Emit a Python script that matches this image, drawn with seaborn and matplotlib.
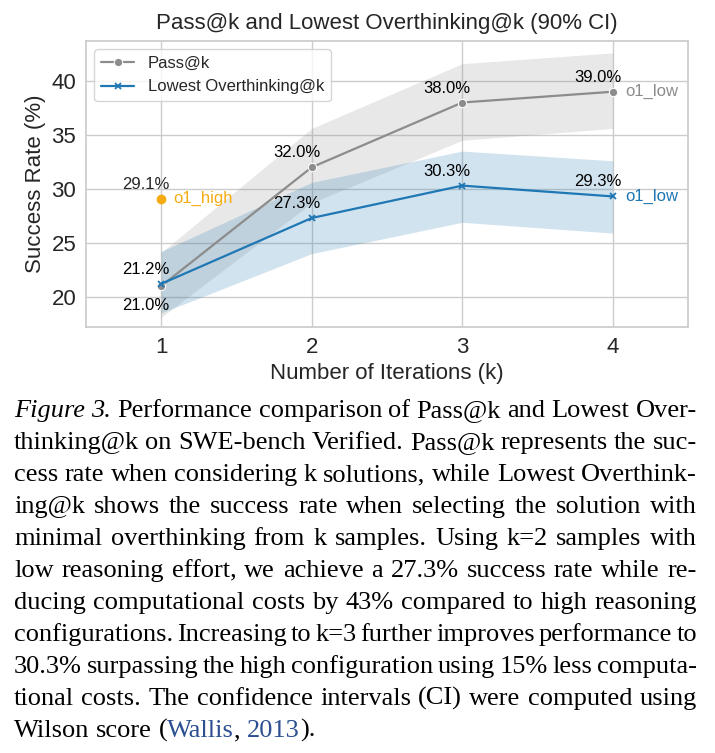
import re

import matplotlib
matplotlib.use("Agg")
import matplotlib.pyplot as plt
import seaborn as sns
from matplotlib.font_manager import FontProperties

# ── Data ────────────────────────────────────────────────────────────────────
iterations = [1, 2, 3, 4]

pass_at_k = [21.0, 32.0, 38.0, 39.0]
pass_ci_low = [18.1, 28.7, 34.5, 35.6]
pass_ci_high = [24.1, 35.6, 41.6, 42.6]

lowest_ot = [21.2, 27.3, 30.3, 29.3]
lowest_ci_low = [18.5, 24.0, 26.9, 25.9]
lowest_ci_high = [24.2, 30.6, 33.5, 32.6]

o1_high_k = 1
o1_high_rate = 29.1

series_names = ["Pass@k", "Lowest Overthinking@k"]
end_label = "o1_low"
high_label = "o1_high"
y_ticks = [20, 25, 30, 35, 40]

caption_lines = [
    "_Figure_ _3._ Performance comparison of Pass@k and Lowest Over-",
    "thinking@k on SWE-bench Verified. Pass@k represents the suc-",
    "cess rate when considering k solutions, while Lowest Overthink-",
    "ing@k shows the success rate when selecting the solution with",
    "minimal overthinking from k samples. Using k=2 samples with",
    "low reasoning effort, we achieve a 27.3% success rate while re-",
    "ducing computational costs by 43% compared to high reasoning",
    "configurations. Increasing to k=3 further improves performance to",
    "30.3% surpassing the high configuration using 15% less computa-",
    "tional costs. The confidence intervals (CI) were computed using",
    "Wilson score ([Wallis], [2013]).",
]

# ── Style ───────────────────────────────────────────────────────────────────
GRAY = "#8c8c8c"
BLUE = "#1f77b4"
ORANGE = "#f5ac12"
LINK = "#2b4f90"
SERIF = ["Liberation Serif", "DejaVu Serif"]
W, H = 715, 753

sns.set_theme(style="whitegrid")
plt.rcParams["font.family"] = ["Liberation Sans", "DejaVu Sans"]

fig = plt.figure(figsize=(W / 100, H / 100), dpi=100)
ax = fig.add_axes([86 / W, 1 - 327 / H, (688 - 86) / W, (327 - 41) / H])

# ── Confidence bands and lines ─────────────────────────────────────────────
ax.fill_between(iterations, pass_ci_low, pass_ci_high, color=GRAY, alpha=0.2, lw=0)
ax.fill_between(iterations, lowest_ci_low, lowest_ci_high, color=BLUE, alpha=0.2, lw=0)

sns.lineplot(x=iterations, y=pass_at_k, marker="o", color=GRAY, label=series_names[0],
             ax=ax, markersize=6, linewidth=1.6)
sns.lineplot(x=iterations, y=lowest_ot, marker="x", color=BLUE, label=series_names[1],
             ax=ax, markersize=5, linewidth=1.6, mec=BLUE, mew=1.3)
ax.plot([o1_high_k], [o1_high_rate], "o", color=ORANGE, markersize=6, zorder=3)

# ── Value labels ────────────────────────────────────────────────────────────
for i, (k, v) in enumerate(zip(iterations, pass_at_k)):
    below = i == 0
    ax.annotate(f"{v:.1f}%", (k, v), xytext=(6, -9 if below else 5),
                textcoords="offset points", ha="right",
                va="top" if below else "bottom", fontsize=12, color="black")
for k, v in zip(iterations, lowest_ot):
    ax.annotate(f"{v:.1f}%", (k, v), xytext=(6, 5), textcoords="offset points",
                ha="right", va="bottom", fontsize=12, color="black")
ax.annotate(f"{o1_high_rate:.1f}%", (o1_high_k, o1_high_rate), xytext=(6, 5),
            textcoords="offset points", ha="right", va="bottom", fontsize=12)
ax.annotate(high_label, (o1_high_k, o1_high_rate), xytext=(9, 0),
            textcoords="offset points", ha="left", va="center", fontsize=12, color=ORANGE)
ax.annotate(end_label, (iterations[-1], pass_at_k[-1]), xytext=(9, 0),
            textcoords="offset points", ha="left", va="center", fontsize=12, color=GRAY)
ax.annotate(end_label, (iterations[-1], lowest_ot[-1]), xytext=(9, 0),
            textcoords="offset points", ha="left", va="center", fontsize=12, color=BLUE)

# ── Axes ────────────────────────────────────────────────────────────────────
ax.set_xlim(0.5, 4.5)
ax.set_ylim(17.2, 43.7)
ax.set_xticks(iterations)
ax.set_yticks(y_ticks)
ax.tick_params(labelsize=16, pad=7, length=0)
ax.set_xlabel("Number of Iterations (k)", fontsize=16)
ax.set_ylabel("Success Rate (%)", fontsize=16)
ax.set_title("Pass@k and Lowest Overthinking@k (90% CI)", fontsize=16, pad=9)
ax.legend(loc="upper left", fontsize=12, frameon=True)


# ── Caption (justified, placed word by word) ───────────────────────────────
renderer = fig.canvas.get_renderer()


def parse_word(word):
    frags = []
    for part in re.split(r"(_[^_]+_|\[[^\]]+\])", word):
        if not part:
            continue
        if part.startswith("_") and part.endswith("_") and len(part) > 1:
            frags.append((part[1:-1], "italic", "black"))
        elif part.startswith("[") and part.endswith("]"):
            frags.append((part[1:-1], "normal", LINK))
        else:
            frags.append((part, "normal", "black"))
    return frags


def advance(s, prop):
    # pen advance of s: ink("x"+s+"x") - ink("xx")
    w1, _, _ = renderer.get_text_width_height_descent("x" + s + "x", prop, ismath=False)
    w0, _, _ = renderer.get_text_width_height_descent("xx", prop, ismath=False)
    return w1 - w0


def draw_caption_line(line, baseline, justify, left=14, right=697, size=19):
    while True:
        words = []
        for w in line.split(" "):
            items = []
            for text, style, color in parse_word(w):
                prop = FontProperties(family=SERIF, style=style, size=size)
                items.append((text, prop, color, advance(text, prop)))
            words.append(items)
        widths = [sum(it[3] for it in items) for items in words]
        space = advance(" ", FontProperties(family=SERIF, size=size))
        gap = (right - left - sum(widths)) / (len(words) - 1) if justify else space
        if gap >= 0.55 * space or size < 12:
            break
        size -= 0.25
    x = left
    for items, wsum in zip(words, widths):
        xx = x
        for text, prop, color, wd in items:
            fig.text(xx / W, 1 - baseline / H, text, fontproperties=prop, color=color,
                     va="baseline", ha="left")
            xx += wd
        x += wsum + gap


for i, line in enumerate(caption_lines):
    draw_caption_line(line, 417 + i * 32, justify=i < len(caption_lines) - 1)

fig.savefig("out.png", dpi=100)
